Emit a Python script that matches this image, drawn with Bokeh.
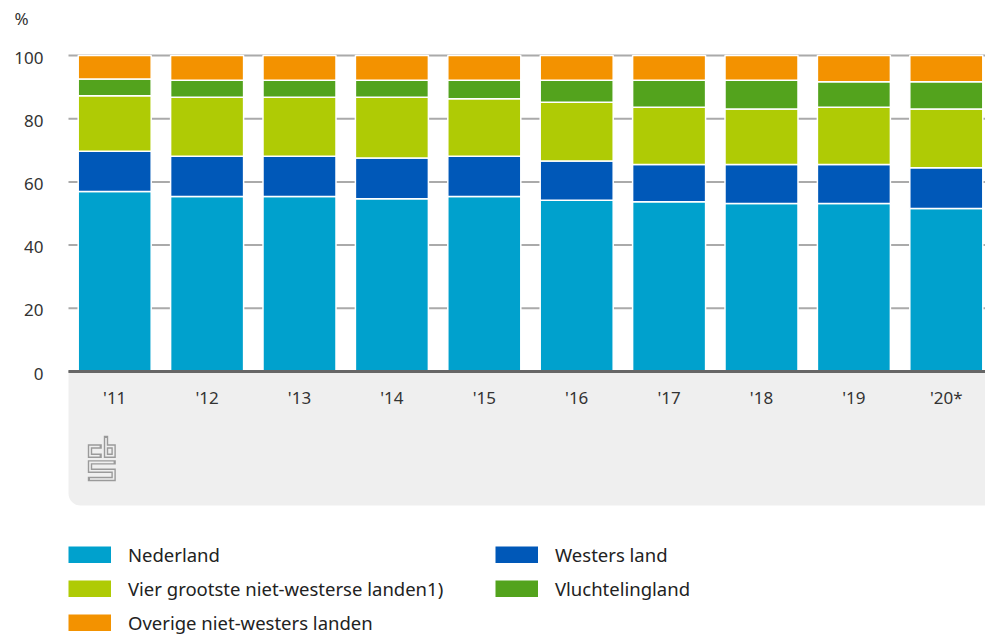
from bokeh.plotting import figure
from bokeh.embed import file_html
from bokeh.resources import INLINE
from bokeh.core.properties import value
from bokeh.models import (ColumnDataSource, BoxAnnotation, Legend,
                          LegendItem, Range1d)

# ---- data (percentages per year) ----
years = ["'11", "'12", "'13", "'14", "'15", "'16", "'17", "'18", "'19", "'20*"]
nederland = [57.0, 55.4, 55.4, 54.7, 55.4, 54.2, 53.7, 53.2, 53.2, 51.6]
westers = [12.7, 12.7, 12.7, 12.9, 12.7, 12.4, 11.8, 12.3, 12.3, 12.9]
vier_grootste = [17.6, 18.7, 18.7, 19.2, 18.2, 18.6, 18.1, 17.6, 18.1, 18.6]
vluchteling = [5.3, 5.4, 5.4, 5.4, 5.9, 7.0, 8.6, 9.1, 8.1, 8.6]
overig = [7.4, 7.8, 7.8, 7.8, 7.8, 7.8, 7.8, 7.8, 8.3, 8.3]

series_names = ["Nederland", "Westers land", "Vier grootste niet-westerse landen1)",
                "Vluchtelingland", "Overige niet-westers landen"]
series_keys = ["ned", "west", "vier", "vlucht", "overig"]
colors = ["#00a1cd", "#0058b8", "#afcb05", "#53a31d", "#f39200"]
y_ticks = [0, 20, 40, 60, 80, 100]
y_unit = "%"

FONT = "Noto Sans"

src = ColumnDataSource(dict(
    x=list(range(len(years))), year=years, ned=nederland, west=westers,
    vier=vier_grootste, vlucht=vluchteling, overig=overig,
    base=[0] * len(years)))

# ---- geometry: the frame covers the whole canvas ----
W, H = 985, 635
PX_X = 92.4      # pixels per category
PX_Y = 3.16      # pixels per percent
PLOT_LEFT = -0.5                 # left edge of the bar area (data)
X0 = PLOT_LEFT - 68 / PX_X
X1 = X0 + W / PX_X
Y1 = 100 + 55 / PX_Y
Y0 = Y1 - H / PX_Y

p = figure(frame_width=W, frame_height=H,
           x_range=Range1d(X0, X1), y_range=Range1d(Y0, Y1),
           output_backend="svg", toolbar_location=None,
           x_axis_location=None, y_axis_location=None,
           min_border=0)
p.outline_line_color = None
p.background_fill_color = "white"
p.border_fill_color = "white"
for g in list(p.xgrid) + list(p.ygrid):
    g.visible = False

# grey band below the axis
band = BoxAnnotation(left=PLOT_LEFT, right=X1, top=0, bottom=-42.4,
                     fill_color="#efefef", fill_alpha=1.0, line_color=None,
                     level="underlay",
                     border_radius=dict(top_left=0, top_right=0,
                                        bottom_right=0, bottom_left=12))
p.add_layout(band)

# horizontal grid lines at the y ticks (behind the bars)
grid_src = ColumnDataSource(dict(
    y=y_ticks, label=[str(t) for t in y_ticks],
    x0=[PLOT_LEFT] * len(y_ticks), x1=[X1] * len(y_ticks)))
p.segment(x0="x0", x1="x1", y0="y", y1="y", source=grid_src,
          line_color="#aaaaaa", line_width=2)

# y tick labels
p.text(x="x0", y="y", text="label", source=grid_src, x_offset=-25, y_offset=2,
       text_align="right", text_baseline="middle",
       text_font=value(FONT), text_font_size="17px", text_color="#333333")

# unit label
p.text(x=[PLOT_LEFT], y=[y_ticks[-1]], text=[y_unit], x_offset=-54, y_offset=-37,
       text_align="left", text_baseline="middle",
       text_font=value(FONT), text_font_size="17px", text_color="#333333")

# stacked bars
renderers = p.vbar_stack(series_keys, x="x", width=0.79, source=src,
                         color=colors, line_color="white", line_width=1.5)

# axis line at 0
p.segment(x0=[PLOT_LEFT], x1=[X1], y0=[0], y1=[0], line_color="#666666",
          line_width=3)

# category labels
p.text(x="x", y="base", text="year", source=src, y_offset=26,
       text_align="center", text_baseline="middle",
       text_font=value(FONT), text_font_size="17px", text_color="#333333")

# cbs logo (decoration), defined in pixel space of the page
def px2x(px):
    return X0 + px / PX_X

def px2y(py):
    return Y1 - py / PX_Y

logo_paths = [
    [(99.1, 446.0), (89.5, 446.0), (89.5, 455.2), (99.1, 455.2)],
    [(105.5, 437.5), (105.5, 455.2), (113.1, 455.2), (113.1, 446.0), (105.5, 446.0)],
    [(113.1, 461.9), (89.5, 461.9), (89.5, 470.2), (113.1, 470.2), (113.1, 478.5), (89.5, 478.5)],
]
lxs = [[px2x(a) for a, b in path] for path in logo_paths]
lys = [[px2y(b) for a, b in path] for path in logo_paths]
p.multi_line(lxs, lys, line_color="#9a9a9a", line_width=4.4,
             line_join="miter", line_cap="square")
p.multi_line(lxs, lys, line_color="#efefef", line_width=1.6,
             line_join="miter", line_cap="butt")

# legend swatches: solid blocks of each series colour (no visible points)
nan = float("nan")
swatches = [p.line(x=[nan], y=[nan], line_color=c, line_width=17, line_cap="butt")
            for c in colors]

# legend is filled column by column, so order items to read row by row
order = [0, 2, 4, 1, 3]
items = [LegendItem(label=series_names[i], renderers=[swatches[i]]) for i in order]
legend = Legend(items=items, ncols=2, location=(68, 0),
                glyph_width=43, glyph_height=17, label_standoff=17,
                label_width=358, spacing=9, padding=0, margin=0,
                border_line_color=None, background_fill_alpha=0,
                label_text_font=FONT, label_text_font_size="18.5px",
                label_text_color="#222222")
p.add_layout(legend)

open("out.html", "w").write(file_html(p, INLINE))
